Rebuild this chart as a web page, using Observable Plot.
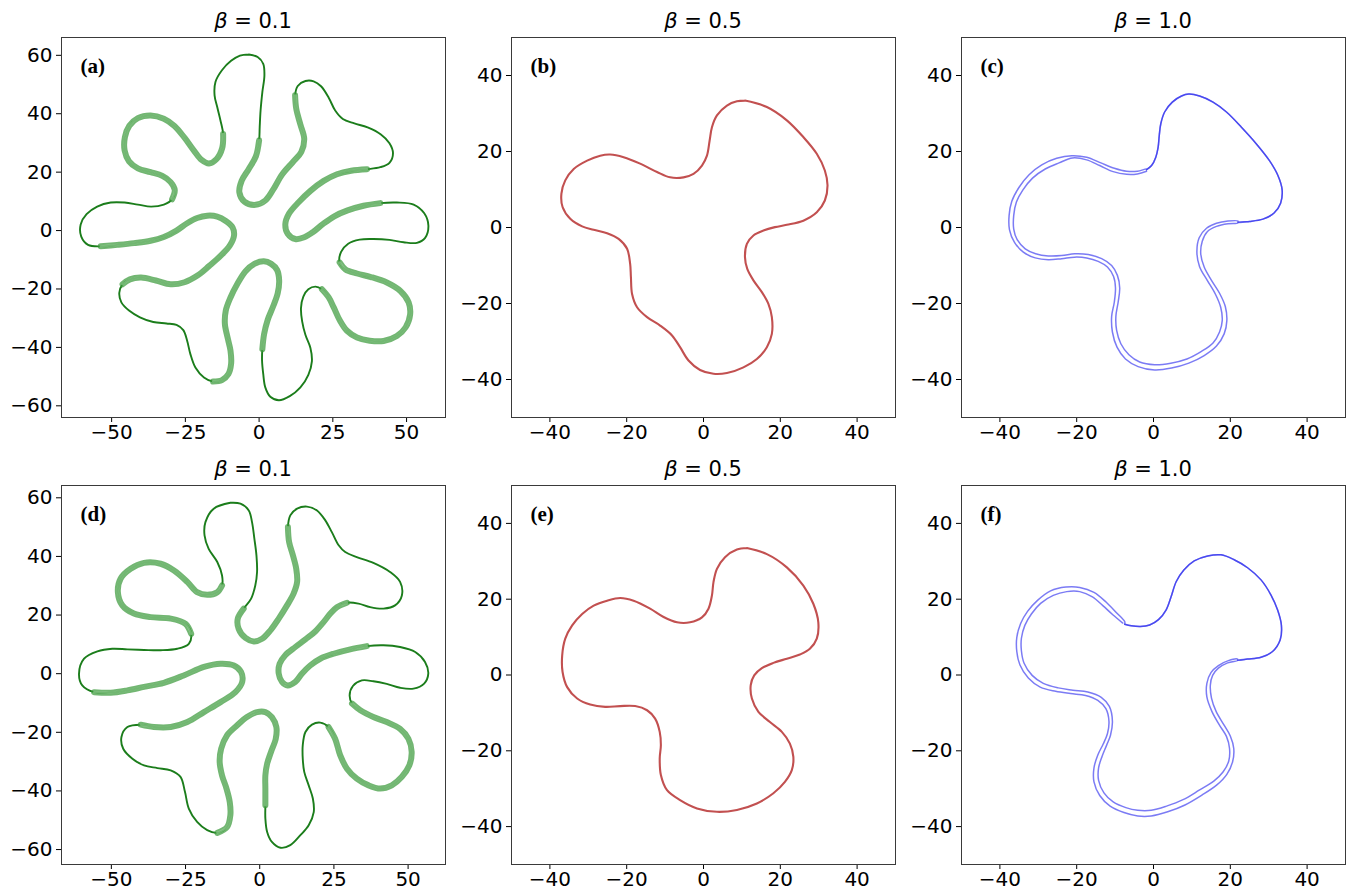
<!DOCTYPE html>
<html><head><meta charset="utf-8">
<script src="https://cdn.jsdelivr.net/npm/d3@7"></script>
<script src="https://cdn.jsdelivr.net/npm/@observablehq/plot@0.6"></script>
<style>
body{margin:0;background:#fff;}
#fig{position:relative;width:1348px;height:890px;overflow:hidden;background:#fff;}
.title{position:absolute;text-align:center;font-size:21px;line-height:21px;color:#000;font-family:"DejaVu Sans";white-space:nowrap;}
.panel{position:absolute;}
.panel svg{overflow:visible;}
</style></head><body><div id="fig"></div>
<script>
// ---------- data ----------
const betas = ["0.1","0.5","1.0","0.1","0.5","1.0"];
const panelLabels = ["(a)","(b)","(c)","(d)","(e)","(f)"];
const ticksWideX = [-50,-25,0,25,50];
const ticksWideY = [-60,-40,-20,0,20,40,60];
const ticksNarrow = [-40,-20,0,20,40];

// (a) beta = 0.1, top row
const aX = [-3.5,-0.5,1.4,1.8,1.1,0.5,0.2,0,-1.1,-3.5,-5.9,-6.7,-5.0,-1.2,2.1,4.7,7.8,11.4,14.3,15.3,14.0,12.6,12.2,13.1,15.7,18.5,21.0,23.6,25.8,28.4,32.3,36.8,41.3,44.2,45.4,44.2,41.1,36.6,31.2,26.4,21.9,17.4,13.4,10.2,8.9,9.7,12.3,15.3,18.3,21.6,25.5,30.0,35.4,41.1,46.7,52.4,56.0,57.4,56.3,53.5,49.0,44.2,38.8,34.1,30.2,27.8,27.3,29.3,33.2,37.9,43.3,47.9,50.7,51.2,49.7,46.7,42.2,37.5,33.2,29.8,27.3,25.3,23.6,21.3,19.1,16.7,15.0,14.2,14.6,15.7,17.4,17.9,16.7,14.0,10.4,6.7,3.8,2.1,1.4,1.0,1.1,1.7,2.9,4.7,6.3,6.8,6.1,4.1,1.6,-1.6,-4.6,-7.4,-9.7,-11.3,-11.6,-10.7,-9.7,-9.5,-10.4,-12.6,-15.6,-18.7,-21.6,-23.3,-24.4,-25.7,-28.0,-31.4,-35.9,-40.4,-44.1,-46.7,-47.4,-46.3,-43.8,-40.0,-35.0,-30.0,-25.3,-20.9,-16.9,-13.1,-9.9,-8.5,-9.0,-11.3,-14.2,-17.6,-21.0,-24.4,-28.0,-32.3,-36.8,-42.4,-48.1,-53.7,-58.0,-60.3,-60.5,-58.5,-54.9,-50.3,-45.6,-41.1,-36.6,-32.3,-29.5,-28.6,-30.0,-32.8,-36.8,-41.1,-44.1,-45.6,-45.5,-44.0,-41.1,-36.8,-32.3,-28.7,-25.3,-22.1,-19.5,-17.0,-14.4,-12.5,-12.2,-13.1,-14.2,-15.1,-14.8,-12.6,-9.5,-6.5];
const aY = [60.3,59.4,57.1,53.1,47.4,41.1,35.4,30.9,25.4,21.1,17.1,13.1,9.9,8.8,10.3,13.9,19.2,23.4,26.9,31.4,36.3,41.7,46.3,49.5,51.2,51.1,49.4,45.5,41.1,38.2,36.7,35.3,32.9,29.9,26.5,23.2,21.7,21.0,20.5,19.3,17.0,13.6,9.7,5.9,2.3,-1.1,-2.9,-2.3,-0.5,2.2,4.9,6.9,8.5,9.4,9.6,8.9,5.9,1.7,-2.5,-4.2,-4.0,-3.2,-2.9,-3.1,-4.5,-7.3,-10.9,-13.3,-14.7,-15.9,-17.8,-20.7,-24.6,-28.8,-33.1,-36.1,-37.8,-37.7,-36.6,-34.3,-30.6,-26.3,-22.9,-20.1,-19.2,-20.1,-22.6,-26.5,-31.1,-35.7,-40.2,-44.8,-49.4,-53.7,-56.7,-58.1,-56.9,-53.7,-49.1,-44.6,-40.6,-35.4,-30.6,-26.1,-21.5,-17.1,-13.5,-11.4,-10.5,-11.4,-13.9,-18.3,-22.9,-27.4,-32.0,-36.6,-41.1,-45.7,-49.1,-51.2,-51.7,-50.3,-46.9,-42.3,-37.7,-34.1,-32.3,-31.8,-31.3,-29.7,-27.4,-24.6,-21.3,-18.4,-16.7,-16.1,-17.1,-18.4,-17.7,-15.4,-12.1,-8.7,-5.1,-1.7,1.1,3.3,4.8,5.1,4.3,2.5,0,-2.2,-3.5,-4.3,-4.9,-5.4,-4.9,-2.1,2.1,5.6,8.2,9.6,9.6,8.9,8.2,8.9,10.7,13.9,16.6,18.7,20.0,21.3,23.7,27.4,32.0,35.9,38.5,39.4,38.3,35.8,31.8,27.4,24.2,23.0,24.5,28.3,33.1,37.7,42.3,46.3,50.9,54.9,58.1,59.9];
const aThickRuns = [[7,22],[37,53],[66,83],[100,120],[133,155],[166,186]];

// (d) beta = 0.1, bottom row
const dX = [-9.9,-15.5,-18.3,-18.6,-17.2,-14.3,-12.7,-12.7,-14.3,-17.7,-21.1,-24.4,-28.9,-33.4,-39.0,-43.5,-46.9,-47.8,-46.3,-42.4,-36.8,-30.0,-25.0,-23.1,-23.9,-27.8,-33.4,-39.0,-44.6,-49.7,-54.7,-59.2,-60.9,-59.8,-55.8,-50.2,-44.6,-39.0,-32.3,-25.6,-18.8,-13.2,-8.7,-6.3,-5.9,-8.2,-13.2,-18.8,-24.4,-30.0,-35.7,-40.1,-44.6,-46.6,-46.0,-42.9,-39.0,-34.5,-30.0,-26.7,-25.2,-23.9,-21.1,-17.7,-14.3,-11.0,-9.9,-10.1,-11.2,-12.7,-13.5,-13.0,-11.0,-7.6,-4.3,-0.9,1.9,4.1,5.6,5.4,3.8,2.5,1.9,1.9,1.9,1.9,2.5,4.1,7.0,10.3,13.7,16.5,18.2,17.9,16.5,15.0,14.5,14.5,15.4,17.6,20.4,23.2,25.4,27.1,29.4,32.7,36.7,40.6,44.5,47.9,50.4,51.2,50.1,47.3,42.8,38.3,33.9,31.1,30.3,31.4,34.4,38.3,42.8,47.3,51.8,55.4,56.8,55.7,52.4,47.3,41.7,36.1,30.5,24.9,20.4,17.0,14.2,12.0,9.4,7.5,6.4,6.7,8.6,12.0,15.4,18.7,21.5,23.8,26.0,29.4,33.3,37.2,41.7,45.6,47.9,47.3,43.9,38.3,32.7,28.8,26.6,24.3,22.1,19.3,15.9,12.6,10.3,9.5,9.9,11.2,12.3,12.6,11.4,9.2,6.4,3.6,0.8,-2.0,-4.8,-7.1,-7.4,-5.4,-2.9,-1.5,-0.9,-1.1,-1.8,-2.6,-3.7,-6.5];
const dY = [58.3,56.3,51.7,47.2,42.6,38.1,33.5,30.1,27.8,26.9,27.8,31.3,35.2,37.5,37.8,35.8,32.4,27.8,23.3,20.5,19.3,18.8,17.0,13.6,10.2,8.5,8.0,8.1,8.3,8.5,7.6,5.1,0,-4.0,-6.3,-6.5,-5.7,-4.5,-3.1,-0.6,2.3,3.4,2.8,0.6,-2.8,-6.3,-9.7,-13.1,-16.5,-18.2,-18.2,-17.4,-18.2,-21.6,-25.6,-29.0,-31.3,-32.2,-33.0,-35.2,-40.3,-46.0,-50.6,-53.4,-54.3,-52.3,-48.3,-43.8,-39.2,-34.7,-30.1,-25.6,-21.0,-17.6,-14.8,-13.1,-13.1,-14.8,-18.2,-22.2,-26.7,-30.7,-34.7,-39.2,-44.9,-49.4,-54.0,-57.4,-59.4,-58.5,-55.1,-51.7,-47.2,-42.6,-38.1,-33.5,-29.0,-24.4,-19.9,-17.4,-16.7,-18.2,-22.2,-27.8,-32.4,-35.8,-38.1,-39.2,-38.1,-35.2,-31.3,-26.7,-22.2,-18.8,-16.5,-14.8,-12.5,-10.2,-7.4,-4.2,-2.3,-2.6,-3.5,-4.8,-5.1,-3.4,0,4.0,7.4,9.1,9.7,9.4,8.3,6.8,5.1,2.8,0,-2.8,-4.0,-2.8,0,3.4,6.3,9.1,11.7,14.4,17.6,20.5,22.7,24.2,23.9,22.7,22.2,23.3,26.7,31.3,34.7,37.8,39.8,41.5,43.8,48.3,52.3,55.7,57.0,56.3,54.0,50.0,44.9,40.3,35.8,31.3,27.3,23.3,18.8,14.8,11.9,11.0,12.2,15.3,18.8,22.2,25.6,30.1,34.7,40.3,46.0,51.7,55.7,58.0];
const dThickRuns = [[7,23],[34,51],[64,84],[101,117],[131,149],[167,181]];

// (b) beta = 0.5, top row
const bX = [10.8,16.5,21.7,26.0,29.5,31.6,32.3,31.6,29.5,26.0,21.7,18.6,15.6,13.0,11.3,10.8,11.4,13.0,15.2,16.9,17.8,17.8,16.5,13.9,10.4,6.1,2.6,-0.9,-3.9,-6.1,-8.2,-11.3,-14.7,-17.3,-18.6,-18.9,-19.1,-19.9,-22.1,-25.1,-28.6,-31.6,-34.7,-36.7,-37.0,-36.0,-33.8,-30.3,-26.9,-24.3,-20.8,-16.5,-12.1,-8.7,-5.2,-2.6,-0.4,0.9,1.6,2.2,3.5,6.1,8.7];
const bY = [33.4,31.7,28.2,23.8,19.4,15.0,11.1,7.1,4.0,1.8,0.7,0.1,-0.8,-2.1,-4.3,-7.8,-10.9,-13.9,-17.0,-20.1,-23.6,-28.0,-31.5,-34.6,-36.8,-38.3,-38.5,-37.5,-35.0,-31.5,-28.4,-25.8,-23.6,-21.0,-17.5,-13.1,-9.6,-5.6,-3.0,-1.5,-0.6,0.3,2.3,5.4,8.9,12.4,15.4,17.6,18.9,19.2,18.5,16.8,14.6,13.2,13.2,14.1,16.3,18.9,22.9,26.4,29.5,32.1,33.2];

// (e) beta = 0.5, bottom row
const eX = [11.3,16.5,21.7,26.0,28.6,29.9,29.5,27.7,25.1,21.7,18.2,15.2,13.2,12.3,12.6,14.3,17.3,20.4,22.5,23.4,23.0,21.2,18.2,13.9,8.7,3.5,-1.7,-6.1,-9.5,-11.1,-11.4,-11.1,-11.4,-12.6,-14.7,-17.8,-21.7,-25.6,-29.5,-32.9,-35.5,-36.7,-36.8,-36.0,-34.2,-31.6,-28.6,-25.1,-21.7,-18.2,-13.9,-10.4,-6.9,-3.5,-0.4,1.3,2.2,2.6,3.5,5.6,8.7];
const eY = [33.5,31.9,28.4,23.6,18.8,13.9,9.6,6.9,5.4,4.3,3.2,1.8,-0.1,-2.7,-6.2,-9.7,-12.4,-15.0,-18.1,-21.6,-25.1,-28.2,-31.2,-33.9,-35.6,-36.1,-35.2,-33.0,-30.4,-26.4,-22.0,-18.5,-15.0,-11.5,-9.3,-8.2,-8.2,-8.4,-7.8,-6.2,-3.2,0.8,5.2,9.6,13.1,16.1,18.3,19.6,20.3,19.6,17.5,15.3,13.9,13.9,15.2,17.5,21.0,24.5,28.0,31.1,33.1];

// (c) beta = 1.0, top row: shared upper-right arc, outer strand, inner strand
const cTopX = [-1.8,-0.5,0.6,1.2,1.5,1.9,2.9,4.9,7.3,9.2,12.0,15.5,19.0,22.9,26.8,30.2,32.4,33.5,33.1,31.4,28.5,25.0,22.0];
const cTopY = [15.2,16.3,18.5,21.1,24.2,27.3,30.4,33.0,34.6,35.1,34.6,33.0,30.4,26.4,22.0,17.6,13.7,9.9,6.4,3.8,2.2,1.6,1.4];
const cOutX = [22.0,19.4,16.4,14.0,12.7,12.3,13.2,15.1,17.2,18.7,19.1,18.4,16.4,13.2,9.2,4.7,0.3,-4.0,-7.3,-9.5,-10.7,-10.9,-10.2,-9.9,-10.4,-12.0,-14.4,-17.4,-20.6,-23.9,-27.4,-30.8,-33.9,-36.2,-37.5,-37.6,-36.9,-35.0,-32.4,-29.1,-25.2,-21.3,-17.4,-13.7,-10.2,-7.0,-4.2,-1.8];
const cOutY = [1.2,1.0,0.3,-1.1,-3.6,-6.9,-10.4,-13.9,-17.3,-20.8,-24.5,-28.0,-31.2,-33.7,-35.7,-37.0,-37.5,-36.6,-34.6,-31.5,-27.5,-23.4,-19.6,-15.9,-12.9,-10.4,-8.9,-8.0,-7.8,-8.2,-8.5,-8.0,-6.5,-3.9,-0.6,3.2,6.9,10.6,13.9,16.5,18.2,18.9,18.5,17.0,15.6,14.8,14.8,15.4];
const cInX = [22.0,19.4,16.4,13.8,11.9,11.3,12.0,14.0,16.1,17.5,17.9,17.2,15.5,12.5,8.7,4.5,0.3,-3.6,-6.4,-8.5,-9.6,-9.8,-9.2,-8.8,-9.4,-10.9,-13.5,-17.0,-20.5,-23.9,-27.4,-30.7,-33.4,-35.5,-36.4,-36.4,-35.7,-34.0,-31.5,-28.2,-24.6,-21.1,-17.4,-14.0,-10.5,-7.0,-4.2,-1.8];
const cInY = [1.7,1.7,1.1,-0.2,-2.7,-6.5,-10.3,-13.9,-17.5,-21.0,-24.5,-27.5,-30.4,-32.6,-34.6,-35.7,-36.1,-35.4,-33.5,-30.6,-27.1,-23.4,-19.6,-15.9,-12.6,-10.0,-8.2,-7.1,-6.9,-7.4,-7.5,-6.9,-5.6,-3.2,-0.4,3.2,6.7,9.9,13.0,15.4,17.0,18.3,17.8,16.3,14.7,14.0,14.1,14.8];

// (f) beta = 1.0, bottom row
const fTopX = [-7.5,-5.8,-3.4,-1.0,1.3,3.3,4.6,5.9,7.9,10.6,14.1,17.6,21.0,24.5,28.0,30.6,32.3,33.3,33.0,31.0,28.0,24.5,21.9];
const fTopY = [13.4,13.0,12.8,13.2,14.6,17.2,20.7,24.6,27.7,30.1,31.4,31.7,30.4,28.3,25.1,21.1,17.2,13.2,9.3,6.2,4.7,4.2,3.9];
const fOutX = [21.9,19.3,16.9,15.4,14.8,15.1,16.3,18.3,20.0,20.9,20.6,19.1,16.5,12.6,8.2,3.7,-0.6,-4.1,-7.7,-11.3,-14.0,-15.5,-15.5,-14.5,-13.1,-12.0,-11.6,-12.4,-14.5,-17.7,-21.6,-25.5,-29.5,-32.6,-34.8,-35.6,-35.6,-34.6,-32.8,-30.2,-26.8,-22.8,-19.2,-15.5,-12.3,-9.7,-7.5];
const fOutY = [3.8,3.2,1.8,-0.1,-2.7,-6.1,-9.6,-13.1,-16.1,-19.4,-22.9,-26.2,-29.0,-31.7,-34.3,-36.1,-37.2,-37.2,-36.3,-34.6,-31.8,-28.2,-24.5,-21.1,-18.2,-15.5,-12.2,-8.9,-6.7,-5.4,-4.9,-4.3,-3.2,-0.8,2.7,6.2,9.9,13.6,16.8,19.7,22.2,23.2,23.1,21.8,19.2,16.5,14.1];
const fInX = [21.9,19.5,16.9,15.0,13.9,13.9,15.2,17.1,19.0,19.8,19.6,18.1,15.7,11.9,7.7,3.4,-0.6,-4.1,-7.2,-10.5,-12.9,-14.3,-14.3,-13.4,-12.2,-11.2,-10.7,-11.5,-13.6,-17.1,-21.0,-24.8,-28.7,-31.6,-33.7,-34.4,-34.4,-33.5,-31.8,-29.4,-26.1,-22.6,-19.2,-15.9,-13.2,-10.6,-8.0];
const fInY = [4.2,3.8,2.5,0.7,-2.2,-5.8,-9.6,-13.1,-16.2,-19.4,-22.7,-25.6,-28.0,-30.4,-32.9,-34.6,-35.7,-35.7,-35.0,-33.5,-31.1,-27.8,-24.5,-21.5,-18.5,-15.9,-12.2,-8.3,-5.9,-4.5,-4.0,-3.4,-2.2,-0.1,3.1,6.4,9.7,13.1,16.1,18.9,21.0,22.0,22.0,20.6,18.3,15.9,13.7];

// ---------- helpers ----------
const pts = (xs, ys) => xs.map((x, i) => ({x, y: ys[i]}));
const closed = (xs, ys) => { const p = pts(xs, ys); p.push({...p[0]}); return p; };
const thickPart = (xs, ys, runs) => xs.map((x, i) => ({x, y: runs.some(([a, b]) => i >= a && i <= b) ? ys[i] : NaN}));
const fmt = d => d < 0 ? "\u2212" + (-d) : String(d);

const GREEN = "#1b7d1b", RED = "#c25050", BLUE = "#2a2aee";
const curve = "catmull-rom";

function greenMarks(xs, ys, runs) {
  const t = thickPart(xs, ys, runs);
  return [
    Plot.line(closed(xs, ys), {x: "x", y: "y", stroke: GREEN, strokeWidth: 1.9, curve}),
    Plot.line(t, {x: "x", y: "y", stroke: "#3c9a3c", strokeWidth: 6, strokeOpacity: 0.72, curve}),
    Plot.line(t, {x: "x", y: "y", stroke: "#a6d6a6", strokeWidth: 2.4, strokeOpacity: 0.55, curve})
  ];
}
function redMarks(xs, ys) {
  return [Plot.line(closed(xs, ys), {x: "x", y: "y", stroke: RED, strokeWidth: 2.1, curve})];
}
function blueMarks(tx, ty, ox, oy, ix, iy) {
  const top = pts(tx, ty);
  const s1 = top.concat(pts(ox, oy), [top[0]]);
  const s2 = top.concat(pts(ix, iy));
  return [
    Plot.line(s1, {x: "x", y: "y", stroke: BLUE, strokeWidth: 1.5, strokeOpacity: 0.62, curve}),
    Plot.line(s2, {x: "x", y: "y", stroke: BLUE, strokeWidth: 1.5, strokeOpacity: 0.62, curve})
  ];
}

// ---------- layout ----------
const layout = [
  {left: 0,   top: 0,   ml: 61, mr: 5, mt: 37, mb: 28, xd: [-67, 63.2], yd: [-64, 66.1], xt: ticksWideX, yt: ticksWideY, marks: greenMarks(aX, aY, aThickRuns)},
  {left: 450, top: 0,   ml: 61, mr: 5, mt: 37, mb: 28, xd: [-50, 50], yd: [-50, 50], xt: ticksNarrow, yt: ticksNarrow, marks: redMarks(bX, bY)},
  {left: 898, top: 0,   ml: 63, mr: 3, mt: 37, mb: 28, xd: [-50, 50], yd: [-50, 50], xt: ticksNarrow, yt: ticksNarrow, marks: blueMarks(cTopX, cTopY, cOutX, cOutY, cInX, cInY)},
  {left: 0,   top: 445, ml: 61, mr: 5, mt: 40, mb: 26, xd: [-66.8, 62.6], yd: [-65.1, 64.2], xt: ticksWideX, yt: ticksWideY, marks: greenMarks(dX, dY, dThickRuns)},
  {left: 450, top: 445, ml: 61, mr: 5, mt: 40, mb: 26, xd: [-50, 50], yd: [-50, 50], xt: ticksNarrow, yt: ticksNarrow, marks: redMarks(eX, eY)},
  {left: 898, top: 445, ml: 63, mr: 3, mt: 40, mb: 26, xd: [-50, 50], yd: [-50, 50], xt: ticksNarrow, yt: ticksNarrow, marks: blueMarks(fTopX, fTopY, fOutX, fOutY, fInX, fInY)}
];

const fig = document.getElementById("fig");
layout.forEach((L, i) => {
  const W = 450, H = 445;
  const chart = Plot.plot({
    width: W, height: H,
    marginLeft: L.ml, marginRight: L.mr, marginTop: L.mt, marginBottom: L.mb,
    x: {domain: L.xd, ticks: L.xt, tickFormat: fmt, tickSize: 5, tickPadding: 2, label: null},
    y: {domain: L.yd, ticks: L.yt, tickFormat: fmt, tickSize: 5, tickPadding: 4, label: null},
    style: {fontSize: "20px", fontFamily: "DejaVu Sans", color: "#000", background: "transparent", overflow: "visible"},
    marks: [
      ...L.marks,
      Plot.frame({stroke: "#3a3a3a", strokeWidth: 1}),
      Plot.text([panelLabels[i]], {frameAnchor: "top-left", textAnchor: "start", lineAnchor: "middle", dx: 19, dy: 29, text: d => d,
        fontFamily: "Liberation Serif", fontWeight: "bold", fontSize: 21, fill: "#000"})
    ]
  });
  const wrap = document.createElement("div");
  wrap.className = "panel";
  wrap.style.left = L.left + "px";
  wrap.style.top = L.top + "px";
  wrap.appendChild(chart);
  fig.appendChild(wrap);

  const t = document.createElement("div");
  t.className = "title";
  t.style.left = (L.left + L.ml) + "px";
  t.style.width = (W - L.ml - L.mr) + "px";
  t.style.top = (L.top + L.mt - 26) + "px";
  t.innerHTML = '<span style="font-style:italic">\u03b2</span> = ' + betas[i];
  fig.appendChild(t);
});
</script>
</body></html>
